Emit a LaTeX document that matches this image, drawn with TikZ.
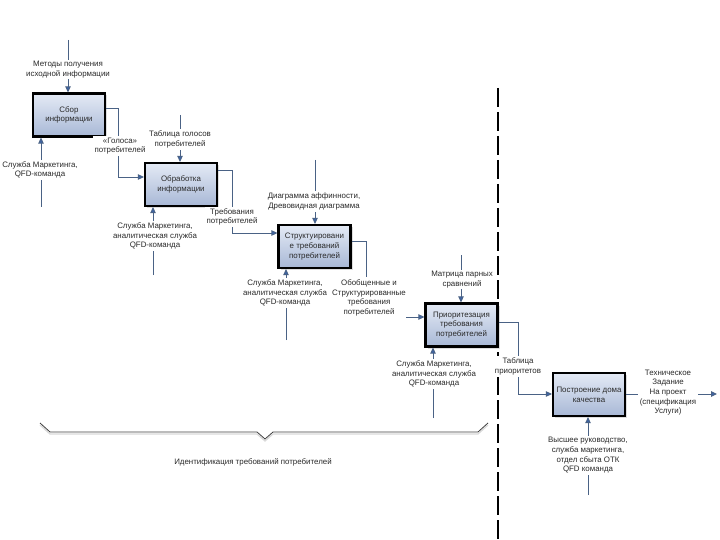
\documentclass[tikz,border=0pt]{standalone}
\usepackage{fontspec}
\setmainfont{Liberation Sans}
\usetikzlibrary{arrows.meta,shadows}
\definecolor{lnc}{HTML}{4A6285}
\definecolor{ahc}{HTML}{3C64A8}
\definecolor{boxtop}{HTML}{E4EAF5}
\definecolor{boxbot}{HTML}{A8B8D6}
\definecolor{txt}{HTML}{2A2A2A}
\begin{document}
\begin{tikzpicture}[x=1pt,y=-1pt,
 lbl/.style={align=center, font=\fontsize{7.9}{9.7}\selectfont, text=txt, inner sep=1.5pt, fill=white},
 proc/.style={draw=black, line width=2.2pt, top color=boxtop, bottom color=boxbot,
   minimum width=72pt, minimum height=43pt, align=center,
   font=\fontsize{7.9}{9.7}\selectfont, text=txt, inner sep=1pt,
   drop shadow={shadow xshift=2pt, shadow yshift=-2pt, fill=black!25}},
 ln/.style={draw=lnc, line width=0.9pt},
 arr/.style={ln, -{Triangle[length=6pt,width=5.5pt,fill=ahc]}},
 bracel/.style={draw=black!75, line width=0.8pt},
 boundary/.style={draw=black, line width=1.1pt, dash pattern=on 19pt off 5pt},
]
\useasboundingbox (0,0) rectangle (720,540);
\fill[white] (0,0) rectangle (720,540);

% dashed boundary
\coordinate (d1) at (498,88);
\coordinate (d2) at (498,540);
\draw[boundary] (d1) -- (d2);

% process boxes
\node[proc] (b1) at (69,115) {Сбор\\информации};
\node[proc] (b2) at (181,184.5) {Обработка\\информации};
\node[proc] (b3) at (314.5,246.5) {Структуировани\\е требований\\потребителей};
\node[proc] (b4) at (461.5,325) {Приоритезация\\требования\\потребителей};
\node[proc] (b5) at (589,394.5) {Построение дома\\качества};

% coordinates
\coordinate (t1) at (68,40);
\coordinate (m1) at (41,207);
\coordinate (o1a) at (118,108);
\coordinate (o1b) at (118,177);
\coordinate (t2) at (180,115);
\coordinate (m2) at (153,275);
\coordinate (o2a) at (232,170);
\coordinate (o2b) at (232,233);
\coordinate (t3) at (315,160);
\coordinate (m3) at (286,340);
\coordinate (o3a) at (366,241);
\coordinate (o3b) at (366,317);
\coordinate (t4) at (461,255);
\coordinate (m4) at (433,418);
\coordinate (o4a) at (518,322);
\coordinate (o4b) at (518,394);
\coordinate (o5) at (717,394);
\coordinate (m5) at (588,495);

% connectors
\draw[arr] (t1) -- (t1 |- b1.north);
\draw[arr] (m1) -- (m1 |- b1.south);
\draw[arr] (b1.east |- o1a) -- (o1a) -- (o1b) -- (b2.west |- o1b);
\draw[arr] (t2) -- (t2 |- b2.north);
\draw[arr] (m2) -- (m2 |- b2.south);
\draw[arr] (b2.east |- o2a) -- (o2a) -- (o2b) -- (b3.west |- o2b);
\draw[arr] (t3) -- (t3 |- b3.north);
\draw[arr] (m3) -- (m3 |- b3.south);
\draw[arr] (b3.east |- o3a) -- (o3a) -- (o3b) -- (b4.west |- o3b);
\draw[arr] (t4) -- (t4 |- b4.north);
\draw[arr] (m4) -- (m4 |- b4.south);
\draw[arr] (b4.east |- o4a) -- (o4a) -- (o4b) -- (b5.west |- o4b);
\draw[arr] (b5.east |- o5) -- (o5);
\draw[arr] (m5) -- (m5 |- b5.south);

% labels
\node[lbl] (l1c) at (68,69.5) {Методы получения\\исходной информации};
\node[lbl] (l1m) at (40,170) {Служба Маркетинга,\\QFD-команда};
\node[lbl] (l1o) at (120,146) {«Голоса»\\потребителей};
\node[lbl] (l2c) at (180,139.5) {Таблица голосов\\потребителей};
\node[lbl] (l2m) at (155,236) {Служба Маркетинга,\\аналитическая служба\\QFD-команда};
\node[lbl] (l2o) at (232,217) {Требования\\потребителей};
\node[lbl] (l3c) at (314,201.5) {Диаграмма аффинности,\\Древовидная диаграмма};
\node[lbl, inner xsep=0.3pt, inner ysep=2.5pt] (l3o) at (369,298) {Обобщенные и\\Структурированные\\требования\\потребителей};
\node[lbl, inner xsep=0.3pt] (l3m) at (285,293) {Служба Маркетинга,\\аналитическая служба\\QFD-команда};
\node[lbl] (l4c) at (462,279.5) {Матрица парных\\сравнений};
\node[lbl] (l4m) at (434,374) {Служба Маркетинга,\\аналитическая служба\\QFD-команда};
\node[lbl] (l4o) at (518,366.5) {Таблица\\приоритетов};
\node[lbl] (l5o) at (668,392.5) {Техническое\\Задание\\На проект\\(спецификация\\Услуги)};
\node[lbl] (l5m) at (588,455.5) {Высшее руководство,\\служба маркетинга,\\отдел сбыта ОТК\\QFD команда};

% brace
\coordinate (br1) at (40,423);
\coordinate (br2) at (50,432);
\coordinate (br3) at (257,432);
\coordinate (br4) at (265,439);
\coordinate (br5) at (273,432);
\coordinate (br6) at (478,432);
\coordinate (br7) at (488,423);
\draw[draw=black!15, line width=1.2pt, transform canvas={yshift=-2pt}] (br1) -- (br2) -- (br3) -- (br4) -- (br5) -- (br6) -- (br7);
\draw[bracel] (br1) -- (br2) -- (br3) -- (br4) -- (br5) -- (br6) -- (br7);
\node[lbl, fill=none] (bl) at (253,462) {Идентификация требований потребителей};
\end{tikzpicture}
\end{document}
